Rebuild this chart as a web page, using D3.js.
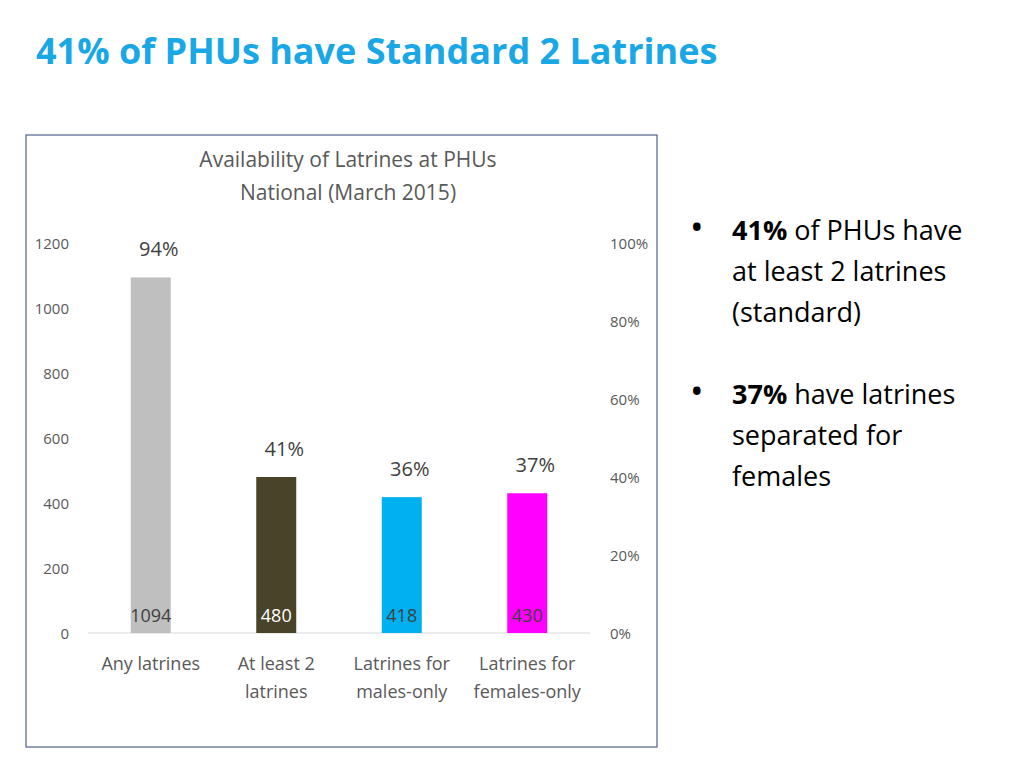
<!DOCTYPE html>
<html><head><meta charset="utf-8">
<script src="https://cdn.jsdelivr.net/npm/d3@7"></script>
<style>body{margin:0;background:#fff;font-family:"Open Sans",Carlito,sans-serif}</style>
</head><body><svg id="c" width="1024" height="768"></svg>
<script>
const categories = [["Any latrines"], ["At least 2", "latrines"], ["Latrines for", "males-only"], ["Latrines for", "females-only"]];
const counts = [1094, 480, 418, 430];
const percents = ["94%", "41%", "36%", "37%"];
const colors = ["#bfbfbf", "#494429", "#00b0f0", "#ff00ff"];
const leftTicks = [0, 200, 400, 600, 800, 1000, 1200];
const rightTicks = [0, 0.2, 0.4, 0.6, 0.8, 1.0];

const svg = d3.select("#c");
svg.append("text").attr("x", 36).attr("y", 64).attr("fill", "#1aa7e6")
  .style("font-size", "36px").style("font-weight", "bold")
  .text("41% of PHUs have Standard 2 Latrines");

svg.append("rect").attr("x", 26).attr("y", 135).attr("width", 631).attr("height", 612)
  .attr("fill", "none").attr("stroke", "#4f6289").attr("stroke-width", 1.2);

const tt = svg.append("text").attr("text-anchor", "middle").attr("fill", "#595959").style("font-size", "21px");
tt.append("tspan").attr("x", 348).attr("y", 167).text("Availability of Latrines at PHUs");
tt.append("tspan").attr("x", 348).attr("y", 200).text("National (March 2015)");

const x = d3.scaleBand().domain(d3.range(4)).range([88, 590]);
const y = d3.scaleLinear().domain([0, 1200]).range([633, 243]);
const yr = d3.scaleLinear().domain([0, 1]).range([633, 243]);

leftTicks.forEach(t => svg.append("text").attr("x", 69).attr("y", y(t) + 6).attr("text-anchor", "end")
  .attr("fill", "#595959").style("font-size", "15px").text(t));
rightTicks.forEach(t => svg.append("text").attr("x", 610).attr("y", yr(t) + 6)
  .attr("fill", "#595959").style("font-size", "15px").text(d3.format(".0%")(t)));

svg.append("line").attr("x1", 88).attr("x2", 590).attr("y1", y(0)).attr("y2", y(0)).attr("stroke", "#d9d9d9");

counts.forEach((v, i) => {
  const cx = x(i) + x.bandwidth() / 2;
  svg.append("rect").attr("x", cx - 20).attr("y", y(v)).attr("width", 40).attr("height", y(0) - y(v)).attr("fill", colors[i]);
  svg.append("text").attr("x", cx).attr("y", 622).attr("text-anchor", "middle").attr("fill", i === 1 ? "#fff" : "#404040")
    .style("font-size", "18px").text(v);
  svg.append("text").attr("x", cx + 8).attr("y", y(v) - 21).attr("text-anchor", "middle").attr("fill", "#404040")
    .style("font-size", "20px").text(percents[i]);
  const t = svg.append("text").attr("text-anchor", "middle").attr("fill", "#595959").style("font-size", "18px");
  categories[i].forEach((s, j) => t.append("tspan").attr("x", cx).attr("y", 670 + j * 28).text(s));
});

const bullets = [
  [["41%", " of PHUs have"], ["", "at least 2 latrines"], ["", "(standard)"]],
  [["37%", " have latrines"], ["", "separated for"], ["", "females"]]
];
bullets.forEach((b, k) => {
  const y0 = 240 + k * 164;
  svg.append("text").attr("x", 690).attr("y", y0).attr("fill", "#000").style("font-size", "36px").text("•");
  b.forEach((ln, j) => {
    const t = svg.append("text").attr("x", 732).attr("y", y0 + j * 41).attr("fill", "#000").style("font-size", "27px");
    if (ln[0]) t.append("tspan").style("font-weight", "bold").text(ln[0]);
    t.append("tspan").text(ln[1]);
  });
});
</script></body></html>
